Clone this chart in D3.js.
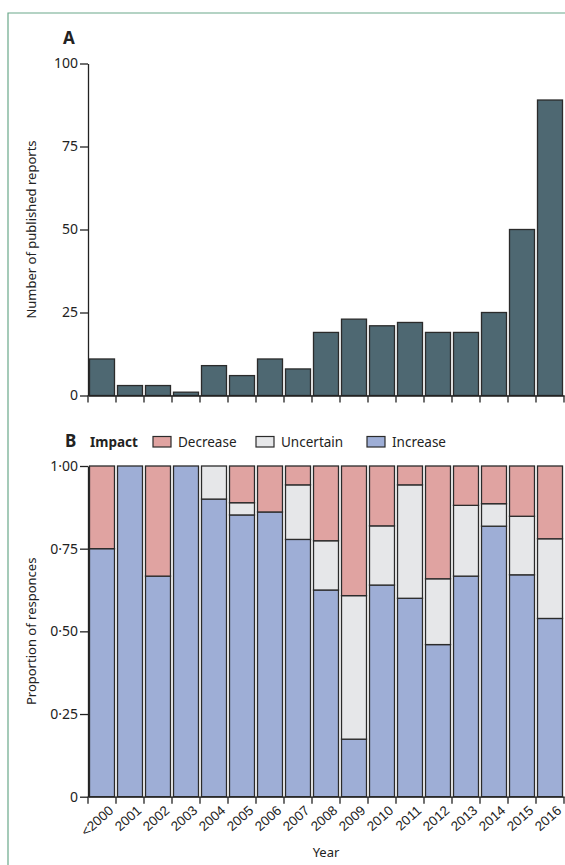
<!DOCTYPE html>
<html lang="en">
<head>
  <meta charset="utf-8">
  <script src="https://d3js.org/d3.v7.min.js"></script>
  <style>
    body { margin: 0; background: #fff; }
    svg { display: block; font-family: "Noto Sans", "Open Sans", sans-serif; }
    .axis path, .axis line { stroke: #222; stroke-width: 1.3; }
    .panel-label { font-weight: bold; font-size: 17px; fill: #222; }
    .axis-title { font-size: 13px; fill: #222; }
  </style>
</head>
<body>
  <svg id="chart" width="565" height="865"></svg>
  <script>
    var years = ["<2000", "2001", "2002", "2003", "2004", "2005", "2006", "2007", "2008",
                 "2009", "2010", "2011", "2012", "2013", "2014", "2015", "2016"];
    var reports = [11, 3, 3, 1, 9, 6, 11, 8, 19, 23, 21, 22, 19, 19, 25, 50, 89];

    // proportions per year
    var increase  = [0.75, 1, 0.667, 1, 0.9, 0.852, 0.861, 0.778, 0.625, 0.174, 0.64, 0.6, 0.46, 0.667, 0.818, 0.671, 0.539];
    var uncertain = [0, 0, 0, 0, 0.1, 0.037, 0, 0.165, 0.149, 0.434, 0.179, 0.343, 0.199, 0.214, 0.068, 0.177, 0.241];
    var decrease  = [0.25, 0, 0.333, 0, 0, 0.111, 0.139, 0.057, 0.226, 0.392, 0.181, 0.057, 0.341, 0.119, 0.114, 0.152, 0.22];

    var countTicks = [0, 25, 50, 75, 100];
    var propTicks = [0, 0.25, 0.5, 0.75, 1];
    var seriesNames = ["Decrease", "Uncertain", "Increase"];
    var colors = { "Increase": "#9eaed6", "Uncertain": "#e6e7e9", "Decrease": "#e0a3a1" };

    var svg = d3.select("#chart");

    function styleAxis(g) {
      g.attr("font-family", null).attr("font-size", null);
      g.selectAll("text").style("font-size", "14px").attr("fill", "#222");
    }

    // frame
    svg.append("path")
      .attr("d", "M8,865V13H565")
      .attr("fill", "none")
      .attr("stroke", "#6aa88a")
      .attr("stroke-width", 1.2);

    var x = d3.scaleBand().domain(years).range([88, 564]).padding(0);

    // ---- Panel A ----
    var yA = d3.scaleLinear().domain([0, 100]).range([395.5, 63.5]);

    svg.append("text").attr("class", "panel-label").attr("x", 63).attr("y", 44).text("A");

    svg.append("g")
      .selectAll("rect")
      .data(years)
      .enter().append("rect")
        .attr("x", function(d) { return x(d) + 1.5; })
        .attr("width", x.bandwidth() - 3)
        .attr("y", function(d, i) { return yA(reports[i]); })
        .attr("height", function(d, i) { return yA(0) - yA(reports[i]); })
        .attr("fill", "#4e6872")
        .attr("stroke", "#2b2b2b")
        .attr("stroke-width", 1.3);

    svg.append("g")
      .attr("class", "axis")
      .attr("transform", "translate(88,0)")
      .call(d3.axisLeft(yA).tickValues(countTicks).tickSize(8).tickPadding(2).tickSizeOuter(0))
      .call(styleAxis);

    var xAxisA = svg.append("g")
      .attr("class", "axis")
      .attr("transform", "translate(0,395.5)")
      .call(d3.axisBottom(x).tickSize(0).tickFormat(""));
    xAxisA.selectAll(".tick").remove();
    xAxisA.selectAll(".bt")
      .data(years.concat(["end"]))
      .enter().append("line")
        .attr("x1", function(d, i) { return 88 + i * x.bandwidth(); })
        .attr("x2", function(d, i) { return 88 + i * x.bandwidth(); })
        .attr("y1", 0).attr("y2", 7);

    svg.append("text")
      .attr("class", "axis-title")
      .attr("transform", "translate(36," + (yA(50)) + ") rotate(-90)")
      .attr("text-anchor", "middle")
      .text("Number of published reports");

    // ---- Panel B ----
    var yB = d3.scaleLinear().domain([0, 1]).range([796.7, 466]);

    var rows = years.map(function(d, i) {
      return { year: d, Increase: increase[i], Uncertain: uncertain[i], Decrease: decrease[i] };
    });
    var stack = d3.stack().keys(["Increase", "Uncertain", "Decrease"]);
    var layers = stack(rows);

    svg.append("g")
      .selectAll("g")
      .data(layers)
      .enter().append("g")
        .attr("fill", function(d) { return colors[d.key]; })
      .selectAll("rect")
      .data(function(d) { return d.filter(function(s) { return s[1] - s[0] > 0; }); })
      .enter().append("rect")
        .attr("x", function(d) { return x(d.data.year) + 1.5; })
        .attr("width", x.bandwidth() - 3)
        .attr("y", function(d) { return yB(Math.min(d[1], 1)); })
        .attr("height", function(d) { return yB(d[0]) - yB(Math.min(d[1], 1)); })
        .attr("stroke", "#2b2b2b")
        .attr("stroke-width", 1.3);

    var fmt = function(d) { return d === 0 ? "0" : d3.format(".2f")(d).replace(".", "\u00b7"); };

    svg.append("g")
      .attr("class", "axis")
      .attr("transform", "translate(88,0)")
      .call(d3.axisLeft(yB).tickValues(propTicks).tickFormat(fmt).tickSize(8).tickPadding(2).tickSizeOuter(0))
      .call(styleAxis);

    var xAxisB = svg.append("g")
      .attr("class", "axis")
      .attr("transform", "translate(0,796.7)")
      .call(d3.axisBottom(x).tickSize(0).tickFormat(""));
    xAxisB.selectAll(".tick").remove();
    xAxisB.selectAll(".bt")
      .data(years.concat(["end"]))
      .enter().append("line")
        .attr("x1", function(d, i) { return 88 + i * x.bandwidth(); })
        .attr("x2", function(d, i) { return 88 + i * x.bandwidth(); })
        .attr("y1", 0).attr("y2", 7);
    xAxisB.selectAll(".yl")
      .data(years)
      .enter().append("text")
        .attr("transform", function(d) { return "translate(" + (x(d) + x.bandwidth() / 2 + 6) + ",8) rotate(-42)"; })
        .attr("text-anchor", "end")
        .attr("dy", "0.7em")
        .attr("fill", "#222")
        .style("font-size", "13.5px")
        .text(function(d) { return d; });

    svg.append("text")
      .attr("class", "axis-title")
      .attr("x", 326).attr("y", 857)
      .attr("text-anchor", "middle")
      .text("Year");

    svg.append("text")
      .attr("class", "axis-title")
      .attr("transform", "translate(36," + (yB(0.5)) + ") rotate(-90)")
      .attr("text-anchor", "middle")
      .text("Proportion of responces");

    // legend
    svg.append("text").attr("class", "panel-label").attr("x", 65).attr("y", 447).text("B");
    svg.append("text").attr("x", 90).attr("y", 447)
      .style("font-weight", "bold").style("font-size", "13.5px").attr("fill", "#222").text("Impact");

    var legendX = { "Decrease": 153, "Uncertain": 256, "Increase": 367 };
    var lg = svg.append("g").selectAll("g")
      .data(seriesNames)
      .enter().append("g")
        .attr("transform", function(d) { return "translate(" + legendX[d] + ",436.5)"; });
    lg.append("rect")
      .attr("width", 18).attr("height", 10.5)
      .attr("fill", function(d) { return colors[d]; })
      .attr("stroke", "#2b2b2b").attr("stroke-width", 1.2);
    lg.append("text")
      .attr("x", 25).attr("y", 10.5)
      .style("font-size", "13.5px").attr("fill", "#222")
      .text(function(d) { return d; });
  </script>
</body>
</html>
